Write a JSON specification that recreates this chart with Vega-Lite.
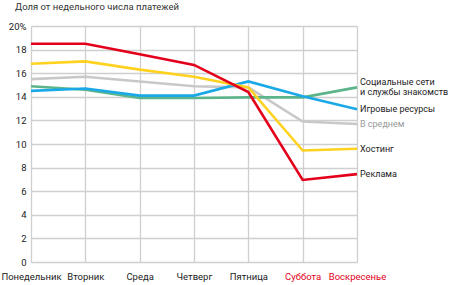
{
  "$schema": "https://vega.github.io/schema/vega-lite/v6.json",
  "width": 326,
  "height": 236,
  "autosize": {"type": "none"},
  "padding": {"left": 31, "top": 26, "right": 93, "bottom": 23},
  "config": {
    "view": {"stroke": null},
    "font": "Roboto",
    "axis": {"gridColor": "#cfcfcf", "gridWidth": 1.3, "domain": false, "ticks": false, "labelFont": "Roboto", "labelFontSize": 9.5, "labelColor": "#222"}
  },
  "title": {"text": "Доля от недельного числа платежей", "anchor": "start", "frame": "group", "dx": -16, "fontSize": 9.5, "fontWeight": "normal", "color": "#333", "font": "Roboto", "offset": 10},
  "data": {"values": [
    {"series": "В среднем", "day": "Понедельник", "v": 15.5, "label": "В среднем"},
    {"series": "В среднем", "day": "Вторник", "v": 15.7, "label": "В среднем"},
    {"series": "В среднем", "day": "Среда", "v": 15.3, "label": "В среднем"},
    {"series": "В среднем", "day": "Четверг", "v": 14.9, "label": "В среднем"},
    {"series": "В среднем", "day": "Пятница", "v": 14.8, "label": "В среднем"},
    {"series": "В среднем", "day": "Суббота", "v": 11.9, "label": "В среднем"},
    {"series": "В среднем", "day": "Воскресенье", "v": 11.7, "label": "В среднем"},
    {"series": "Социальные сети", "day": "Понедельник", "v": 14.9, "label": "Социальные сети\nи службы знакомств"},
    {"series": "Социальные сети", "day": "Вторник", "v": 14.6, "label": "Социальные сети\nи службы знакомств"},
    {"series": "Социальные сети", "day": "Среда", "v": 13.9, "label": "Социальные сети\nи службы знакомств"},
    {"series": "Социальные сети", "day": "Четверг", "v": 13.9, "label": "Социальные сети\nи службы знакомств"},
    {"series": "Социальные сети", "day": "Пятница", "v": 13.95, "label": "Социальные сети\nи службы знакомств"},
    {"series": "Социальные сети", "day": "Суббота", "v": 13.95, "label": "Социальные сети\nи службы знакомств"},
    {"series": "Социальные сети", "day": "Воскресенье", "v": 14.8, "label": "Социальные сети\nи службы знакомств"},
    {"series": "Игровые ресурсы", "day": "Понедельник", "v": 14.5, "label": "Игровые ресурсы"},
    {"series": "Игровые ресурсы", "day": "Вторник", "v": 14.7, "label": "Игровые ресурсы"},
    {"series": "Игровые ресурсы", "day": "Среда", "v": 14.1, "label": "Игровые ресурсы"},
    {"series": "Игровые ресурсы", "day": "Четверг", "v": 14.1, "label": "Игровые ресурсы"},
    {"series": "Игровые ресурсы", "day": "Пятница", "v": 15.3, "label": "Игровые ресурсы"},
    {"series": "Игровые ресурсы", "day": "Суббота", "v": 14.05, "label": "Игровые ресурсы"},
    {"series": "Игровые ресурсы", "day": "Воскресенье", "v": 12.95, "label": "Игровые ресурсы"},
    {"series": "Хостинг", "day": "Понедельник", "v": 16.8, "label": "Хостинг"},
    {"series": "Хостинг", "day": "Вторник", "v": 17.0, "label": "Хостинг"},
    {"series": "Хостинг", "day": "Среда", "v": 16.3, "label": "Хостинг"},
    {"series": "Хостинг", "day": "Четверг", "v": 15.7, "label": "Хостинг"},
    {"series": "Хостинг", "day": "Пятница", "v": 14.8, "label": "Хостинг"},
    {"series": "Хостинг", "day": "Суббота", "v": 9.45, "label": "Хостинг"},
    {"series": "Хостинг", "day": "Воскресенье", "v": 9.6, "label": "Хостинг"},
    {"series": "Реклама", "day": "Понедельник", "v": 18.5, "label": "Реклама"},
    {"series": "Реклама", "day": "Вторник", "v": 18.5, "label": "Реклама"},
    {"series": "Реклама", "day": "Среда", "v": 17.6, "label": "Реклама"},
    {"series": "Реклама", "day": "Четверг", "v": 16.7, "label": "Реклама"},
    {"series": "Реклама", "day": "Пятница", "v": 14.4, "label": "Реклама"},
    {"series": "Реклама", "day": "Суббота", "v": 6.95, "label": "Реклама"},
    {"series": "Реклама", "day": "Воскресенье", "v": 7.45, "label": "Реклама"}
  ]},
  "encoding": {
    "x": {"field": "day", "type": "ordinal", "sort": null,
      "scale": {"type": "point", "padding": 0},
      "axis": {"title": null, "grid": true, "labelAngle": 0, "labelPadding": 9,
        "labelColor": {"condition": {"test": "datum.value == 'Суббота' || datum.value == 'Воскресенье'", "value": "#e3001b"}, "value": "#222"}}},
    "y": {"field": "v", "type": "quantitative",
      "scale": {"domain": [0, 20], "nice": false},
      "axis": {"title": null, "grid": true, "values": [0, 2, 4, 6, 8, 10, 12, 14, 16, 18, 20], "labelPadding": 5,
        "labelExpr": "datum.value == 20 ? '20%' : datum.label"}}
  },
  "layer": [
    {
      "mark": {"type": "line", "strokeWidth": 2.6, "strokeJoin": "miter"},
      "encoding": {
        "color": {"field": "series", "type": "nominal", "sort": null, "legend": null,
          "scale": {"domain": ["В среднем", "Социальные сети", "Игровые ресурсы", "Хостинг", "Реклама"],
                    "range": ["#c8c8c8", "#5cb58a", "#1aa9e6", "#ffd21f", "#e3001b"]}}
      }
    },
    {
      "transform": [{"filter": "datum.day == 'Воскресенье' && datum.series != 'Социальные сети'"}],
      "mark": {"type": "text", "align": "left", "dx": 3, "fontSize": 9, "font": "Roboto"},
      "encoding": {
        "text": {"field": "label"},
        "color": {"condition": {"test": "datum.series == 'В среднем'", "value": "#999999"}, "value": "#222222"},
        "fontStyle": {"condition": {"test": "datum.series == 'В среднем'", "value": "italic"}, "value": "normal"}
      }
    },
    {
      "transform": [{"filter": "datum.day == 'Воскресенье' && datum.series == 'Социальные сети'"}],
      "mark": {"type": "text", "align": "left", "dx": 3, "dy": -5, "fontSize": 9, "lineBreak": "\n", "lineHeight": 10, "font": "Roboto", "color": "#222222"},
      "encoding": {
        "text": {"field": "label"}
      }
    }
  ]
}
